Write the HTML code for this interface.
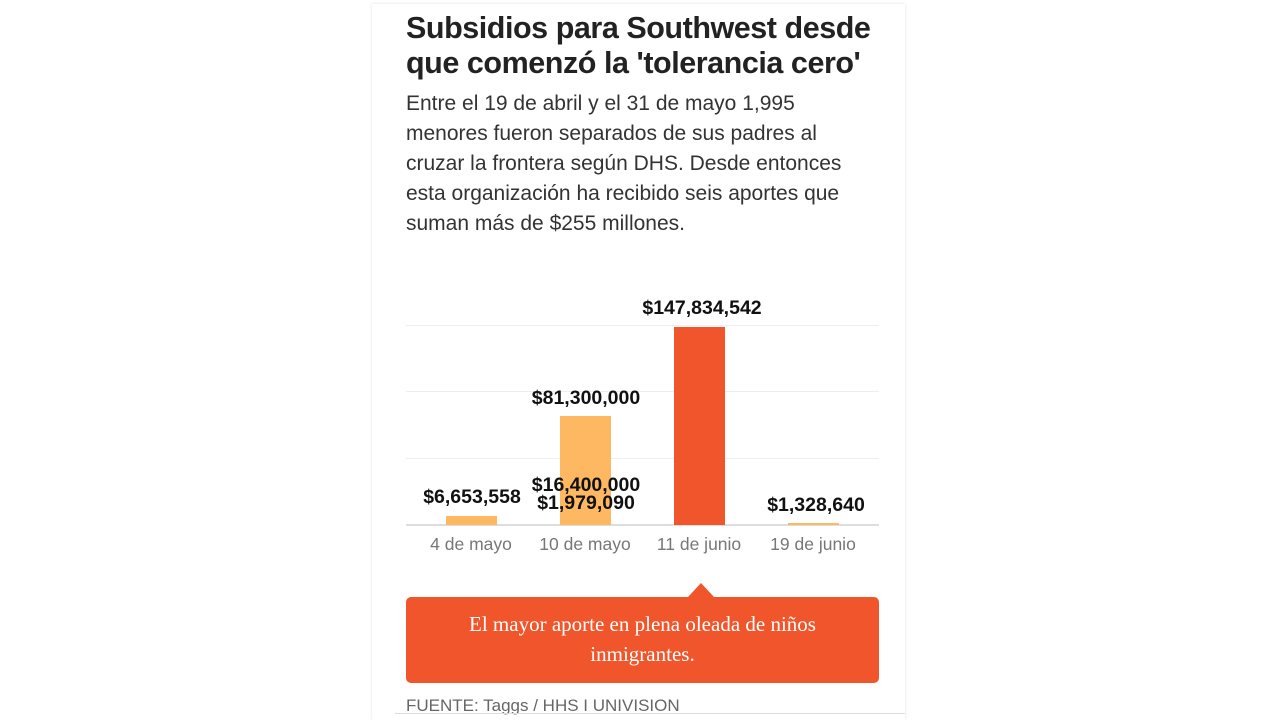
<!DOCTYPE html>
<html><head><meta charset="utf-8"><style>
body{margin:0;width:1280px;height:720px;background:#fff;position:relative;overflow:hidden;font-family:"Liberation Sans",Arial,sans-serif}
.card{position:absolute;left:372px;top:4px;width:533px;height:716px;background:#fff;box-shadow:0 0 3px rgba(0,0,0,0.12)}
.t{position:absolute;left:406px;top:11px;font-size:30.5px;font-weight:bold;color:#222;line-height:35px;letter-spacing:-0.45px}
.s{position:absolute;left:406px;top:89px;font-size:21px;color:#333;line-height:30px;width:480px;letter-spacing:0px}
.a{position:absolute;font-size:17.5px;color:#777;width:114px;text-align:center;top:534px}
.v{position:absolute;font-size:19.5px;font-weight:bold;color:#111;width:160px;text-align:center}
.g{position:absolute;left:406px;width:473px;height:1px;background:#eee}
.b{position:absolute;width:51px}
.call{position:absolute;left:406px;top:597px;width:473px;height:86px;background:#f0552b;border-radius:5px;color:#fff;font-family:"Liberation Serif",serif;font-size:21px;line-height:30px;text-align:center;box-sizing:border-box;padding-top:12px}
.tri{position:absolute;left:688px;top:583px;width:0;height:0;border-left:13px solid transparent;border-right:13px solid transparent;border-bottom:14px solid #f0552b}
</style></head><body>
<div class="card"></div>
<div class="t">Subsidios para Southwest desde<br>que comenzó la 'tolerancia cero'</div>
<div class="s">Entre el 19 de abril y el 31 de mayo 1,995<br>menores fueron separados de sus padres al<br>cruzar la frontera según DHS. Desde entonces<br>esta organización ha recibido seis aportes que<br>suman más de $255 millones.</div>
<div class="g" style="top:325px"></div>
<div class="g" style="top:391px"></div>
<div class="g" style="top:458px"></div>
<div class="g" style="top:524px;height:2px;background:#ddd"></div>
<div class="b" style="left:446px;top:516px;height:9px;background:#ffb862"></div>
<div class="b" style="left:560px;top:416px;height:109px;background:#ffb862"></div>
<div class="b" style="left:674px;top:327px;height:198px;background:#f0552b"></div>
<div class="b" style="left:788px;top:523px;height:2px;background:#ffb862"></div>
<div class="v" style="left:392px;top:486px">$6,653,558</div>
<div class="v" style="left:506px;top:387px">$81,300,000</div>
<div class="v" style="left:506px;top:474px">$16,400,000</div>
<div class="v" style="left:506px;top:492px">$1,979,090</div>
<div class="v" style="left:622px;top:297px">$147,834,542</div>
<div class="v" style="left:736px;top:494px">$1,328,640</div>
<div class="a" style="left:414px">4 de mayo</div>
<div class="a" style="left:528px">10 de mayo</div>
<div class="a" style="left:642px">11 de junio</div>
<div class="a" style="left:756px">19 de junio</div>
<div class="tri"></div>
<div class="call">El mayor aporte en plena oleada de niños<br>inmigrantes.</div>
<div style="position:absolute;left:406px;top:696px;font-size:17px;color:#666">FUENTE: Taggs / HHS I UNIVISION</div>
<div style="position:absolute;left:395px;top:713px;width:510px;height:1px;background:#ddd"></div>
</body></html>
